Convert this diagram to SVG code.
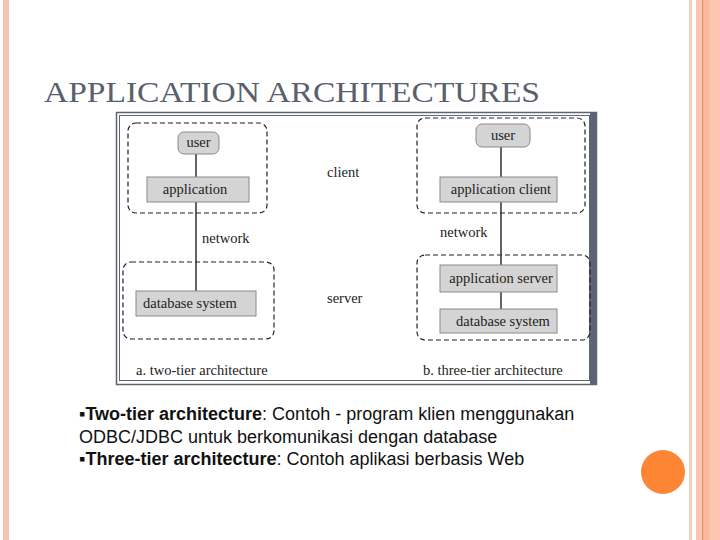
<svg xmlns="http://www.w3.org/2000/svg" width="720" height="540" viewBox="0 0 720 540">
<style>
.ser{font-family:"Liberation Serif","DejaVu Serif",serif;font-size:14.5px;fill:#222}
.box{fill:#d4d4d4;stroke:#8a8a8a;stroke-width:1}
.dash{fill:none;stroke:#222;stroke-width:1.2;stroke-dasharray:5,3}
.ln{stroke:#111;stroke-width:1.3}
.frm{fill:none;stroke:#5d6472}
.bul{font-family:"Liberation Sans",Arial,sans-serif;font-size:18px;fill:#111}
</style>
<rect width="720" height="540" fill="#fff"/>
<g id="page-border">
<rect x="3" y="0" width="6" height="540" fill="#f8c4b0"/>
<rect x="689" y="0" width="3" height="540" fill="#f6d0c0"/>
<rect x="696" y="0" width="24" height="540" fill="#fcc6b0"/>
<rect x="702" y="0" width="1.5" height="540" fill="#e09060"/>
<rect x="703.5" y="0" width="6" height="540" fill="#fbbaa0"/>
</g>
<text x="44" y="102" font-family="'Liberation Serif','DejaVu Serif',serif" font-size="29" fill="#5a606c" textLength="496" lengthAdjust="spacingAndGlyphs">APPLICATION ARCHITECTURES</text>
<g id="frame">
<rect x="116.5" y="112.5" width="480" height="272" class="frm" stroke-width="1.5"/>
<rect x="119.5" y="115.5" width="470" height="265" class="frm" stroke-width="1"/>
<rect x="590" y="112" width="7" height="273" fill="#5d6472"/>
</g>
<g id="connectors">
<line x1="196" y1="154" x2="196" y2="177" class="ln"/>
<line x1="196" y1="202" x2="196" y2="291" class="ln"/>
<line x1="501" y1="147" x2="501" y2="177" class="ln"/>
<line x1="501" y1="202" x2="501" y2="265" class="ln"/>
<line x1="501" y1="292" x2="501" y2="309" class="ln"/>
</g>
<g id="client-2tier"><rect x="128" y="123" width="139" height="90" rx="8" class="dash"/></g>
<g id="server-2tier"><rect x="123" y="262" width="151" height="77" rx="8" class="dash"/></g>
<g id="client-3tier"><rect x="417" y="118" width="168" height="95" rx="8" class="dash"/></g>
<g id="server-3tier"><rect x="417" y="255" width="173" height="85" rx="8" class="dash"/></g>
<g id="user-a"><rect x="178" y="132" width="41" height="22" rx="6" class="box"/><text x="198.5" y="147" text-anchor="middle" class="ser">user</text></g>
<g id="application-a"><rect x="147" y="177" width="102" height="25" class="box"/><text x="195" y="193.5" text-anchor="middle" class="ser">application</text></g>
<g id="database-a"><rect x="136" y="291" width="120" height="25" class="box"/><text x="143" y="307.5" class="ser">database system</text></g>
<g id="user-b"><rect x="476" y="124" width="54" height="23" rx="6" class="box"/><text x="503" y="139.5" text-anchor="middle" class="ser">user</text></g>
<g id="appclient-b"><rect x="440" y="177" width="117" height="25" class="box"/><text x="501" y="193.5" text-anchor="middle" class="ser">application client</text></g>
<g id="appserver-b"><rect x="440" y="265" width="117" height="27" class="box"/><text x="501" y="282.5" text-anchor="middle" class="ser">application server</text></g>
<g id="database-b"><rect x="440" y="309" width="117" height="24" class="box"/><text x="503" y="325.5" text-anchor="middle" class="ser">database system</text></g>
<g id="labels">
<text x="327" y="177" class="ser">client</text>
<text x="202" y="243" class="ser">network</text>
<text x="440" y="237" class="ser">network</text>
<text x="327" y="303" class="ser">server</text>
<text x="136" y="375" class="ser">a.  two-tier architecture</text>
<text x="423" y="375" class="ser">b.  three-tier architecture</text>
</g>
<g id="bullets">
<text x="79" y="420" class="bul">▪<tspan font-weight="bold">Two-tier architecture</tspan>:  Contoh - program klien menggunakan</text>
<text x="79" y="443" class="bul">ODBC/JDBC untuk berkomunikasi dengan database</text>
<text x="79" y="465" class="bul">▪<tspan font-weight="bold">Three-tier architecture</tspan>: Contoh aplikasi berbasis Web</text>
</g>
<circle cx="663" cy="472" r="22" fill="#fe8534"/>
</svg>
